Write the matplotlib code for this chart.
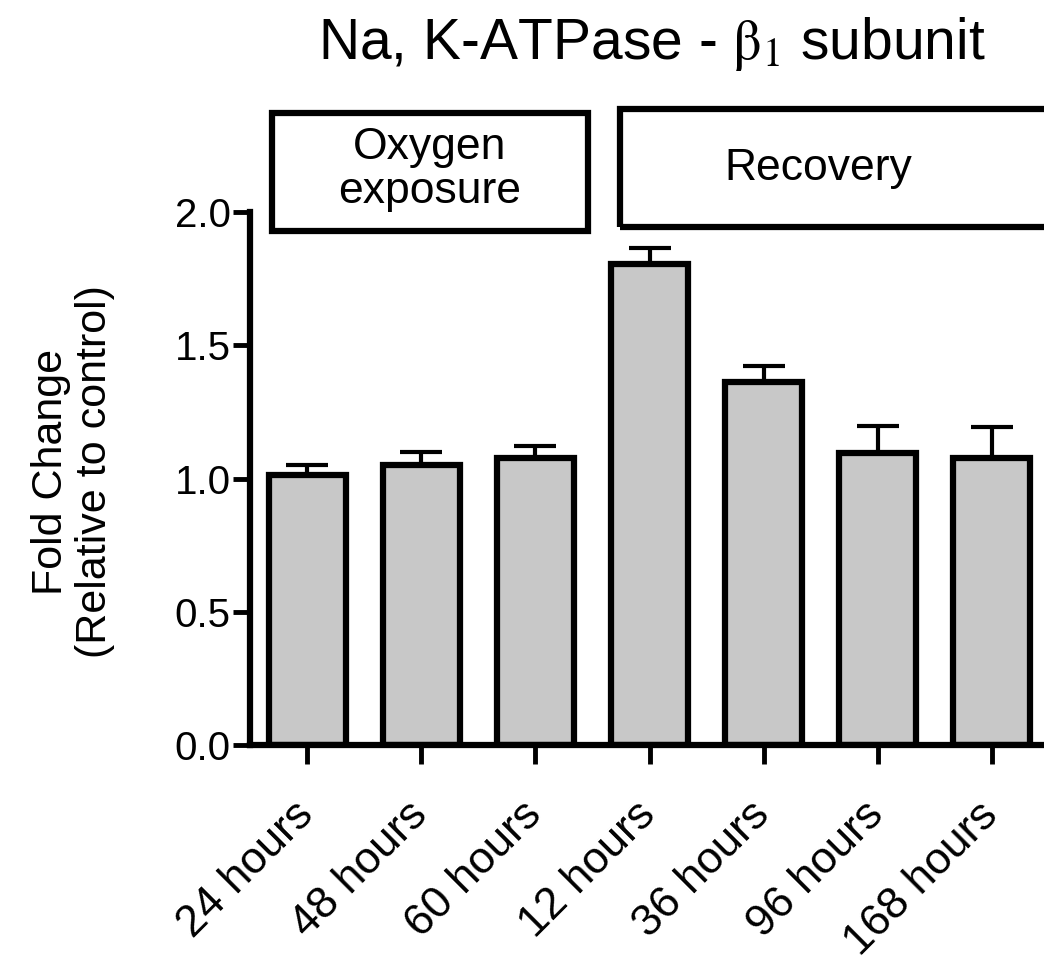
import matplotlib
matplotlib.use("Agg")
import matplotlib.pyplot as plt
import matplotlib.transforms as mtransforms
from matplotlib.patches import Rectangle
import numpy as np

# ---- data ----
categories = ["24 hours", "48 hours", "60 hours", "12 hours", "36 hours", "96 hours", "168 hours"]
fold_change = [1.013, 1.051, 1.077, 1.805, 1.362, 1.096, 1.077]
sem = [0.038, 0.049, 0.045, 0.060, 0.060, 0.101, 0.116]
yticks = [0.0, 0.5, 1.0, 1.5, 2.0]
ytick_labels = ["0.0", "0.5", "1.0", "1.5", "2.0"]
group_labels = ["Oxygen\nexposure", "Recovery"]

plt.rcParams["font.family"] = ["Liberation Sans", "DejaVu Sans"]
plt.rcParams["mathtext.fontset"] = "stix"

fig = plt.figure(figsize=(10.44, 9.64), dpi=100)
ax = fig.add_axes([250 / 1044, 1 - 745 / 964, 1 - 250 / 1044, (745 - 212) / 964])

x = np.arange(len(categories))
lw = 4.5
ax.bar(x, fold_change, width=0.67, color="#c8c8c8", edgecolor="black",
       linewidth=lw, zorder=2)
ax.errorbar(x, fold_change, yerr=[np.zeros(len(sem)), sem], fmt="none",
            ecolor="black", elinewidth=3, capsize=15, capthick=3, zorder=1)

ax.set_xlim(-0.504, 6.46)
ax.set_ylim(0, 2.0)
ax.set_yticks(yticks)
ax.set_yticklabels(ytick_labels, fontsize=29)
ax.set_xticks(x)
ax.set_xticklabels(categories, fontsize=32, rotation=45, ha="right", va="center",
                   rotation_mode="anchor")
offset = mtransforms.ScaledTranslation(15 / 72, 0, fig.dpi_scale_trans)
for lab in ax.get_xticklabels():
    lab.set_transform(lab.get_transform() + offset)

for side in ["top", "right"]:
    ax.spines[side].set_visible(False)
for side in ["left", "bottom"]:
    ax.spines[side].set_linewidth(4.5)
ax.tick_params(axis="y", length=12, width=3.5, pad=2)
ax.tick_params(axis="x", length=14, width=3.5, pad=32)
ax.set_facecolor("none")

# group boxes above the plot
box_specs = [(-0.311, 1.929, 2.771, 0.442, 1.075, 2.158),
             (2.741, 1.944, 4.2, 0.442, 4.48, 2.165)]
for (bx, by, bw, bh, tx, ty), lab in zip(box_specs, group_labels):
    ax.add_patch(Rectangle((bx, by), bw, bh, fill=False, edgecolor="black",
                           linewidth=4.5, clip_on=False, zorder=3))
    ax.text(tx, ty, lab, ha="center", va="center", fontsize=32,
            linespacing=1.1, clip_on=False)

fig.text(652 / 1044, 1 - 44 / 964, r"Na, K-ATPase - $\mathrm{\beta}_1$ subunit",
         ha="center", va="center", fontsize=41)
fig.text(73 / 1044, 1 - 472 / 964, "Fold Change\n(Relative to control)",
         rotation=90, ha="center", va="center", multialignment="center",
         fontsize=31, linespacing=1.1)

fig.savefig("out.png", dpi=100)
